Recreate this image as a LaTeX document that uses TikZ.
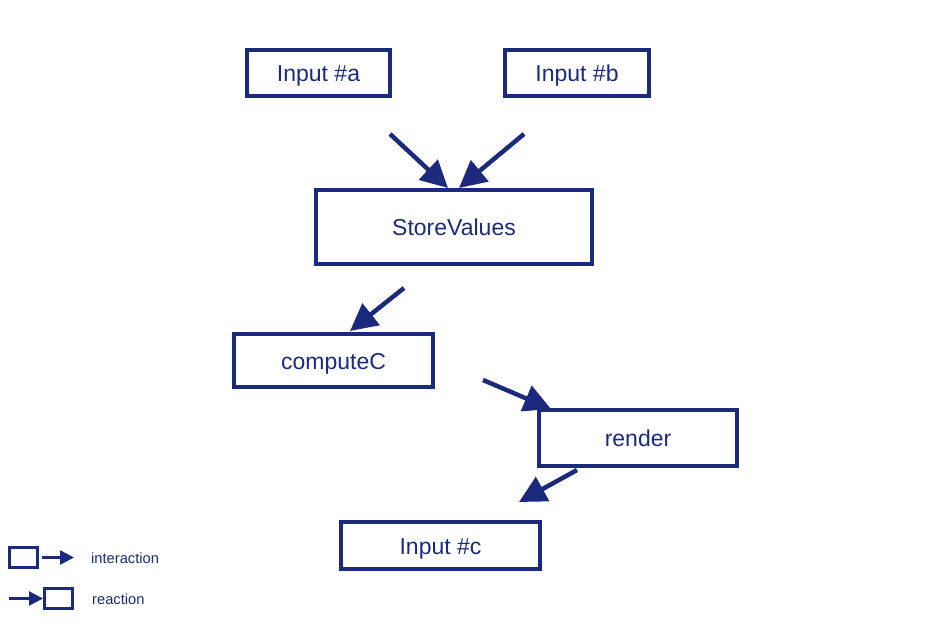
\documentclass[tikz,border=0pt]{standalone}
\usepackage{fontspec}
\setmainfont{Liberation Sans}
\usetikzlibrary{arrows.meta}
\definecolor{navy}{HTML}{1B2A7C}
\begin{document}
\begin{tikzpicture}[x=1pt,y=-1pt,
  box/.style={draw=navy,line width=4pt,text=navy,font=\fontsize{23}{26}\selectfont,inner sep=0pt,text height=17pt,text depth=0pt,anchor=center},
  flow/.style={draw=navy,line width=4.5pt,-{Triangle[length=27pt,width=27pt]}},
  lbox/.style={draw=navy,line width=3pt,inner sep=0pt,minimum width=28pt,minimum height=20pt},
  lflow/.style={draw=navy,line width=2.5pt,-{Triangle[length=14pt,width=14pt]}},
  ltext/.style={text=navy,font=\fontsize{14.7}{17}\selectfont,anchor=west,inner sep=0pt,text height=11pt,text depth=0pt}]
\useasboundingbox (0,0) rectangle (950,634);
\node[box,minimum width=143pt,minimum height=46pt] (a) at (318.5,73) {Input \#a};
\node[box,minimum width=144pt,minimum height=46pt] (b) at (577,73) {Input \#b};
\node[box,minimum width=276pt,minimum height=74pt] (sv) at (454,227) {StoreValues};
\node[box,minimum width=199pt,minimum height=53pt] (cc) at (333.5,360.5) {computeC};
\node[box,minimum width=198pt,minimum height=56pt] (r) at (638,438) {render};
\node[box,minimum width=199pt,minimum height=47pt] (c) at (440.5,545.5) {Input \#c};
% arrows
\coordinate (t1) at (390,134); \coordinate (h1) at (448,188);
\coordinate (t2) at (524,134); \coordinate (h2) at (459,188);
\coordinate (t3) at (404,288); \coordinate (h3) at (350,331);
\coordinate (t4) at (483,380); \coordinate (h4) at (551,409);
\coordinate (t5) at (577,470); \coordinate (h5) at (519,502);
\draw[flow] (t1) -- (h1);
\draw[flow] (t2) -- (h2);
\draw[flow] (t3) -- (h3);
\draw[flow] (t4) -- (h4);
\draw[flow] (t5) -- (h5);
% legend
\node[lbox] (lb1) at (23.5,557.5) {};
\coordinate (le1) at (74,557.5);
\draw[lflow] (lb1.east) ++(3pt,0) coordinate (ls1) -- (le1);
\node[ltext] (li) at (91,557.5) {interaction};
\node[lbox] (lb2) at (58.5,598.5) {};
\coordinate (ls2) at (9,598.5);
\draw[lflow] (ls2) -- (lb2.west);
\node[ltext] (lr) at (92,598.5) {reaction};
\end{tikzpicture}
\end{document}
